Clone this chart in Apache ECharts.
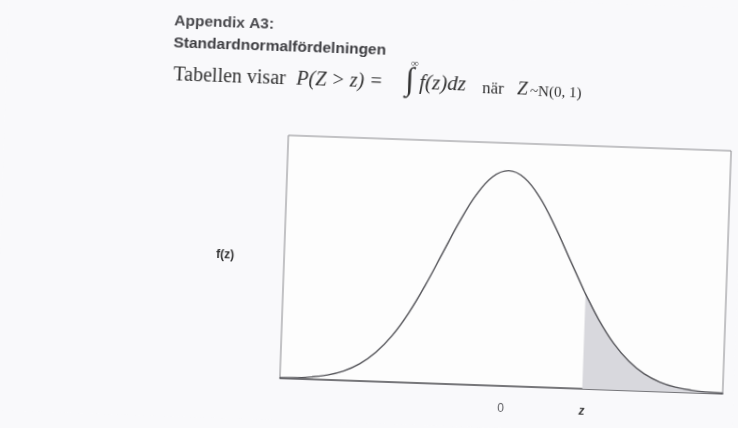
<!DOCTYPE html>
<html>
<head>
<meta charset="utf-8">
<script src="https://cdn.jsdelivr.net/npm/echarts@6/dist/echarts.min.js"></script>
<style>
    html, body { margin: 0; padding: 0; background: #f9f9fb; overflow: hidden; }
    /* the scanned page is tilted about 2 degrees clockwise */
    #chart { width: 738px; height: 428px; transform: rotate(2deg); transform-origin: 505px 265px; }
</style>
</head>
<body>
<div id="chart"></div>
<script>
// z values along the axis and the curve height
const zPoints = [-3.5, -3.25, -3, -2.75, -2.5, -2.25, -2, -1.75, -1.5, -1.25, -1, -0.75, -0.5, -0.25,
    0, 0.25, 0.5, 0.75, 1, 1.25, 1.28, 1.5, 1.75, 2, 2.25, 2.5, 2.75, 3, 3.25, 3.5];
const density = [0.0009, 0.0020, 0.0044, 0.0091, 0.0175, 0.0317, 0.0540, 0.0863, 0.1295, 0.1826, 0.2420, 0.3011, 0.3521, 0.3867,
    0.3989, 0.3867, 0.3521, 0.3011, 0.2420, 0.1826, 0.1758, 0.1295, 0.0863, 0.0540, 0.0317, 0.0175, 0.0091, 0.0044, 0.0020, 0.0009];
// where the shaded tail starts
const zCut = 1.28;
const tickValues = [0, zCut];
const tickLabels = ['{n|0}', '{z|z}'];

const curve = zPoints.map((z, i) => [z, density[i]]);
const tail = curve.filter(p => p[0] >= zCut);

const chart = echarts.init(document.getElementById('chart'));

const serif = '"Liberation Serif", "DejaVu Serif", serif';
const sans = '"Liberation Sans", Arial, sans-serif';

const option = {
    backgroundColor: '#f9f9fb',
    animation: false,
    grid: {
        left: 284,
        right: 11,
        top: 143,
        bottom: 42,
        show: true,
        backgroundColor: '#fdfdfd',
        borderColor: '#8a8a8e',
        borderWidth: 1
    },
    xAxis: {
        type: 'value',
        min: -3.5,
        max: 3.5,
        axisLine: { show: true, onZero: false, lineStyle: { color: '#5e5e62', width: 1.6 } },
        axisTick: { show: false },
        splitLine: { show: false },
        axisLabel: {
            customValues: tickValues,
            margin: 17,
            formatter: v => tickLabels[tickValues.indexOf(v)] || '',
            rich: {
                n: { color: '#606064', fontFamily: sans, fontSize: 12 },
                z: { color: '#444', fontFamily: sans, fontSize: 12, fontWeight: 'bold', fontStyle: 'italic' }
            }
        }
    },
    yAxis: {
        type: 'value',
        min: 0,
        max: 0.45,
        axisLine: { show: false },
        axisTick: { show: false },
        axisLabel: { show: false },
        splitLine: { show: false },
        name: 'f(z)',
        nameLocation: 'middle',
        nameRotate: 0,
        nameGap: 50,
        nameTextStyle: { color: '#333', fontFamily: sans, fontSize: 12, fontWeight: 'bold' }
    },
    series: [
        {
            name: 'tail',
            type: 'line',
            data: tail,
            smooth: 0.4,
            symbol: 'none',
            lineStyle: { width: 0 },
            areaStyle: { color: '#d8d8dd', opacity: 1 },
            z: 1
        },
        {
            name: 'f(z)',
            type: 'line',
            data: curve,
            smooth: 0.4,
            symbol: 'none',
            lineStyle: { color: '#55555a', width: 1.4 },
            z: 2
        }
    ],
    graphic: [
        {
            type: 'text', left: 166, top: 25,
            style: { text: 'Appendix A3:', font: 'bold 15.5px ' + sans, fill: '#4a4a4e' }
        },
        {
            type: 'text', left: 166, top: 47,
            style: { text: 'Standardnormalfördelningen', font: 'bold 15.5px ' + sans, fill: '#3e3e42' }
        },
        {
            type: 'text', left: 167, top: 77,
            style: { text: 'Tabellen visar', font: '20px ' + serif, fill: '#333' }
        },
        {
            type: 'text', left: 290, top: 77,
            style: { text: 'P(Z > z) =', font: 'italic 20px ' + serif, fill: '#333' }
        },
        {
            type: 'text', left: 399, top: 69,
            style: { text: '∫', font: 'italic 32px ' + serif, fill: '#333' }
        },
        {
            type: 'text', left: 404, top: 62,
            style: { text: '∞', font: '11px ' + serif, fill: '#555' }
        },
        {
            type: 'text', left: 413, top: 76,
            style: { text: 'f(z)dz', font: 'italic 21px ' + serif, fill: '#333' }
        },
        {
            type: 'text', left: 476, top: 81,
            style: { text: 'när', font: '17px ' + serif, fill: '#333' }
        },
        {
            type: 'text', left: 511, top: 79,
            style: { text: 'Z', font: 'italic 19px ' + serif, fill: '#333' }
        },
        {
            type: 'text', left: 524, top: 84,
            style: { text: '~N(0, 1)', font: '15px ' + serif, fill: '#333' }
        }
    ]
};

chart.setOption(option);
window.addEventListener('resize', () => chart.resize());
</script>
</body>
</html>
